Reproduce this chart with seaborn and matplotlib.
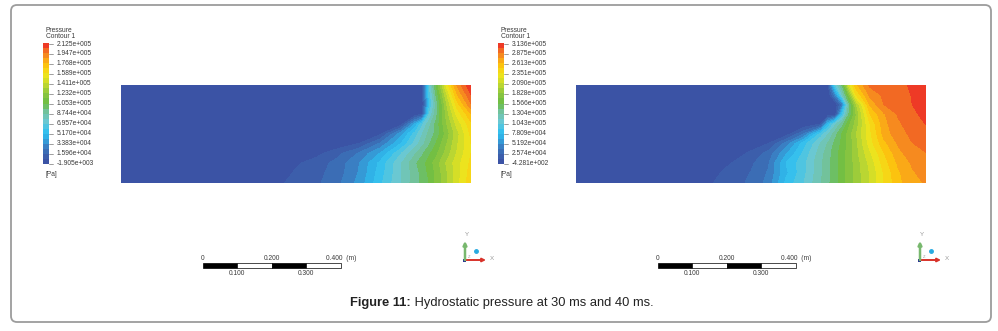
"""Hydrostatic pressure contours at 30 ms and 40 ms (two CFD snapshots side by side)."""

import numpy as np
import matplotlib

matplotlib.use("Agg")
import matplotlib.pyplot as plt  # noqa: E402
import seaborn as sns  # noqa: E402
from matplotlib.colors import BoundaryNorm, LinearSegmentedColormap, ListedColormap  # noqa: E402
from matplotlib.patches import FancyBboxPatch, Rectangle  # noqa: E402

# --- data ----------------------------------------------------------------
# normalised pressure on a grid: 0 = legend minimum, 1 = legend maximum.
# rows run from the bottom (0) to the top (1) of the domain.
y_rows = [0.0, 0.1, 0.2, 0.3, 0.4, 0.5, 0.6, 0.7, 0.8, 0.9, 1.0]

x_cols_30ms = [0.0, 0.44, 0.5, 0.56, 0.62, 0.68, 0.74, 0.8, 0.84, 0.86, 0.88, 0.9, 0.93, 0.96, 1.0]
p_30ms = [
    [0, 0.03, 0.055, 0.075, 0.115, 0.18, 0.28, 0.375, 0.44, 0.47, 0.50, 0.55, 0.62, 0.69, 0.78],
    [0, 0.01, 0.048, 0.07, 0.105, 0.17, 0.27, 0.37, 0.44, 0.47, 0.51, 0.55, 0.62, 0.69, 0.77],
    [0, 0, 0.035, 0.06, 0.10, 0.165, 0.26, 0.37, 0.45, 0.48, 0.52, 0.56, 0.63, 0.69, 0.76],
    [0, 0, 0.01, 0.03, 0.07, 0.13, 0.21, 0.33, 0.41, 0.45, 0.49, 0.53, 0.60, 0.67, 0.75],
    [0, 0, 0, 0, 0.01, 0.042, 0.13, 0.25, 0.35, 0.40, 0.45, 0.50, 0.58, 0.66, 0.75],
    [0, 0, 0, 0, 0, 0, 0.03, 0.19, 0.31, 0.37, 0.43, 0.47, 0.56, 0.65, 0.76],
    [0, 0, 0, 0, 0, 0, 0, 0.02, 0.21, 0.32, 0.40, 0.47, 0.58, 0.68, 0.78],
    [0, 0, 0, 0, 0, 0, 0, 0, 0.01, 0.042, 0.33, 0.44, 0.60, 0.72, 0.83],
    [0, 0, 0, 0, 0, 0, 0, 0, 0, 0, 0.27, 0.43, 0.62, 0.77, 0.91],
    [0, 0, 0, 0, 0, 0, 0, 0, 0, 0.01, 0.30, 0.46, 0.66, 0.83, 0.96],
    [0, 0, 0, 0, 0, 0, 0, 0, 0, 0.03, 0.33, 0.50, 0.72, 0.88, 1.0],
]

x_cols_40ms = [0.0, 0.35, 0.4, 0.45, 0.5, 0.55, 0.6, 0.65, 0.7, 0.72, 0.74, 0.76, 0.78, 0.8,
               0.84, 0.88, 0.92, 0.96, 1.0]
p_40ms = [
    [0, 0.02, 0.045, 0.07, 0.09, 0.14, 0.26, 0.33, 0.415, 0.45, 0.48, 0.52, 0.56, 0.60, 0.67, 0.75, 0.82, 0.86, 0.88],
    [0, 0.01, 0.035, 0.06, 0.085, 0.13, 0.24, 0.32, 0.41, 0.445, 0.48, 0.52, 0.56, 0.60, 0.67, 0.755, 0.825, 0.87, 0.89],
    [0, 0, 0.02, 0.045, 0.075, 0.12, 0.25, 0.32, 0.41, 0.445, 0.48, 0.52, 0.56, 0.60, 0.68, 0.77, 0.84, 0.88, 0.90],
    [0, 0, 0, 0.02, 0.05, 0.10, 0.20, 0.30, 0.40, 0.44, 0.48, 0.52, 0.56, 0.61, 0.70, 0.79, 0.86, 0.90, 0.915],
    [0, 0, 0, 0, 0.015, 0.042, 0.14, 0.27, 0.38, 0.42, 0.47, 0.51, 0.56, 0.61, 0.73, 0.82, 0.88, 0.915, 0.93],
    [0, 0, 0, 0, 0, 0, 0.015, 0.12, 0.31, 0.37, 0.44, 0.50, 0.56, 0.62, 0.74, 0.85, 0.90, 0.925, 0.945],
    [0, 0, 0, 0, 0, 0, 0, 0, 0.042, 0.25, 0.36, 0.44, 0.53, 0.60, 0.75, 0.86, 0.91, 0.935, 0.96],
    [0, 0, 0, 0, 0, 0, 0, 0, 0, 0, 0.01, 0.28, 0.46, 0.58, 0.79, 0.87, 0.92, 0.945, 0.975],
    [0, 0, 0, 0, 0, 0, 0, 0, 0, 0, 0, 0.13, 0.44, 0.62, 0.84, 0.917, 0.935, 0.958, 0.985],
    [0, 0, 0, 0, 0, 0, 0, 0, 0, 0, 0.15, 0.37, 0.55, 0.75, 0.89, 0.925, 0.94, 0.96, 0.99],
    [0, 0, 0, 0, 0, 0, 0, 0, 0, 0.042, 0.32, 0.46, 0.69, 0.82, 0.925, 0.93, 0.945, 0.965, 1.0],
]

legend_30ms = ["2.125e+005", "1.947e+005", "1.768e+005", "1.589e+005", "1.411e+005",
               "1.232e+005", "1.053e+005", "8.744e+004", "6.957e+004", "5.170e+004",
               "3.383e+004", "1.596e+004", "-1.905e+003"]
legend_40ms = ["3.136e+005", "2.875e+005", "2.613e+005", "2.351e+005", "2.090e+005",
               "1.828e+005", "1.566e+005", "1.304e+005", "1.043e+005", "7.809e+004",
               "5.192e+004", "2.574e+004", "-4.281e+002"]

scale_ticks = [0.0, 0.1, 0.2, 0.3, 0.4]
scale_upper = ["0", "0.200", "0.400  (m)"]
scale_lower = ["0.100", "0.300"]

caption_bold = "Figure 11:"
caption_text = " Hydrostatic pressure at 30 ms and 40 ms."

# --- style -----------------------------------------------------------------
sns.set_theme(style="white")
plt.rcParams["font.family"] = ["Liberation Sans", "DejaVu Sans"]

N_BANDS = 24
rainbow = LinearSegmentedColormap.from_list(
    "ansys",
    [
        (0.00, "#3b4ea2"), (0.08, "#3c63ae"), (0.16, "#3a86c8"), (0.22, "#2fb0e6"),
        (0.28, "#37c3ee"), (0.36, "#6fc8cf"), (0.44, "#72c29a"), (0.50, "#6abd45"),
        (0.58, "#8dc63f"), (0.66, "#c3d92f"), (0.74, "#f2e51b"), (0.82, "#fdc10e"),
        (0.88, "#f8981d"), (0.94, "#f26a23"), (1.00, "#ec2227"),
    ],
)
band_cmap = ListedColormap(rainbow((np.arange(N_BANDS) + 0.5) / N_BANDS))
levels = np.linspace(0, 1, N_BANDS + 1)
levels[0], levels[-1] = -1, 2
band_norm = BoundaryNorm(levels, N_BANDS)

W, H = 998, 331
TXT = "#3a3a3a"
SMALL = 4.8

fig = plt.figure(figsize=(W / 100, H / 100), dpi=100)
fig.patch.set_facecolor("white")

# overlay in pixel coordinates for annotations
ov = fig.add_axes([0, 0, 1, 1])
ov.set_xlim(0, W)
ov.set_ylim(H, 0)
ov.axis("off")

ov.add_patch(FancyBboxPatch((11, 5), 980, 317, boxstyle="round,pad=0,rounding_size=6",
                            ec="#9c9c9c", fc="none", lw=1.3))


def px_axes(x0, y0, x1, y1):
    return fig.add_axes([x0 / W, 1 - y1 / H, (x1 - x0) / W, (y1 - y0) / H])


panels = [
    (0, x_cols_30ms, p_30ms, legend_30ms),
    (455, x_cols_40ms, p_40ms, legend_40ms),
]

for dx, xcols, pvals, labels in panels:
    # contour field
    ax = px_axes(121 + dx, 85, 471 + dx, 182.5)
    ax.contourf(xcols, y_rows, np.array(pvals), levels=levels, cmap=band_cmap,
                norm=band_norm, antialiased=False)
    ax.set_xlim(0, 1)
    ax.set_ylim(0, 1)
    ax.set_axis_off()

    # legend colour bar
    cax = px_axes(43 + dx, 43, 49 + dx, 164)
    sns.heatmap(np.arange(N_BANDS)[::-1].reshape(-1, 1), cmap=band_cmap, vmin=0,
                vmax=N_BANDS - 1, cbar=False, xticklabels=False, yticklabels=False,
                ax=cax)
    cax.set_axis_off()

    ov.text(46 + dx, 30, "Pressure", fontsize=SMALL, color=TXT, va="center")
    ov.text(46 + dx, 36.5, "Contour 1", fontsize=SMALL, color=TXT, va="center")
    ov.text(46 + dx, 174, "[Pa]", fontsize=SMALL, color=TXT, va="center")
    ys = np.linspace(44, 163.5, len(labels))
    for yy, lab in zip(ys, labels):
        ov.plot([49 + dx, 53 + dx], [yy, yy], color="#777777", lw=0.5)
        ov.text(57 + dx, yy, lab, fontsize=SMALL, color=TXT, va="center")

    # scale bar
    sx = [202.7 + dx + 345 * t for t in scale_ticks]
    for i in range(len(sx) - 1):
        ov.add_patch(Rectangle((sx[i], 263), sx[i + 1] - sx[i], 5,
                               fc="black" if i % 2 == 0 else "white",
                               ec="black", lw=0.5))
    for xx, lab in zip(sx[::2], scale_upper):
        ov.text(xx, 258, lab, fontsize=SMALL, color=TXT, ha="center", va="center")
    for xx, lab in zip(sx[1::2], scale_lower):
        ov.text(xx, 273.5, lab, fontsize=SMALL, color=TXT, ha="center", va="center")

    # axis triad
    ox, oy = 465 + dx, 260
    ov.annotate("", xy=(ox + 21, oy), xytext=(ox, oy),
                arrowprops=dict(arrowstyle="-|>", color="#d8322a", lw=1.4,
                                mutation_scale=5, shrinkA=0, shrinkB=0))
    ov.annotate("", xy=(ox, oy - 19), xytext=(ox, oy),
                arrowprops=dict(arrowstyle="-|>", color="#78b86e", lw=1.8,
                                mutation_scale=5, shrinkA=0, shrinkB=0))
    ov.add_patch(Rectangle((ox - 1.5, oy - 1.5), 3, 3, fc="#2b3990", ec="none"))
    ov.plot(ox + 11, oy - 9, "o", ms=2.5, color="#27aae1")
    ov.text(ox + 27, oy - 2, "X", fontsize=4.5, color="#9a9a9a", va="center", ha="center")
    ov.text(ox + 2, oy - 25, "Y", fontsize=4.5, color="#9a9a9a", va="center", ha="center")
    ov.text(ox + 3, oy - 3, "Z", fontsize=3, color="#9a9a9a", va="center", ha="left")

# caption: bold lead-in followed by regular text, centred as a whole
t1 = ov.text(0, 303, caption_bold, fontsize=9.3, fontweight="bold", color="#222222",
             va="center", ha="left")
t2 = ov.text(0, 303, caption_text, fontsize=9.3, color="#222222", va="center", ha="left")
fig.canvas.draw()
r = fig.canvas.get_renderer()
w1 = t1.get_window_extent(r).width
w2 = t2.get_window_extent(r).width
start = 501.5 - (w1 + w2) / 2
t1.set_x(start)
t2.set_x(start + w1)

fig.savefig("out.png", dpi=100, facecolor="white")
plt.close(fig)
